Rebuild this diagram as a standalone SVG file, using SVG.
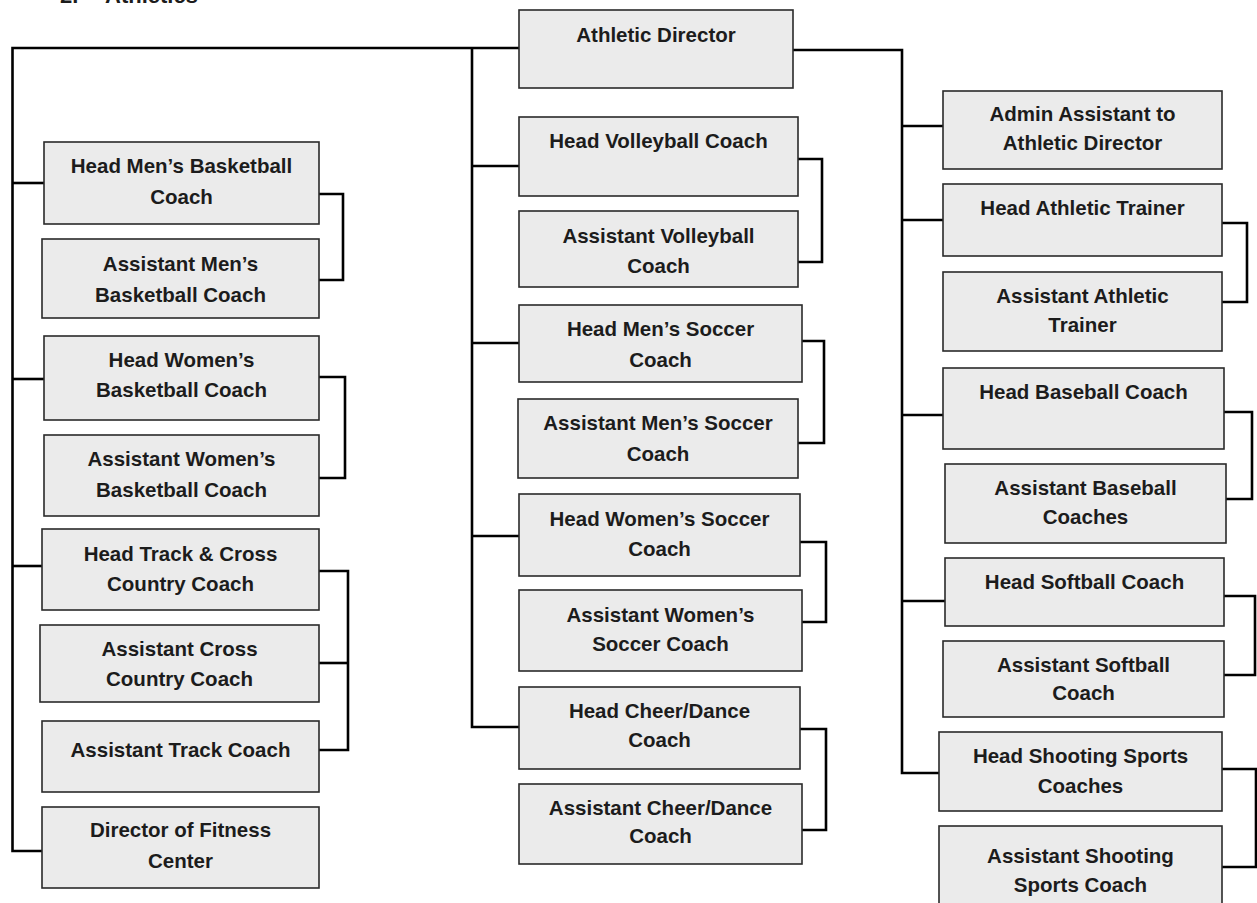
<svg xmlns="http://www.w3.org/2000/svg" width="1257" height="903" viewBox="0 0 1257 903">
<style>
.bg{fill:#ffffff}
.box{fill:#ebebeb;stroke:#2a2a2a;stroke-width:1.6}
.t{font-family:"Liberation Sans",Arial,sans-serif;font-weight:bold;font-size:20.5px;fill:#1c1c1c;text-anchor:middle}
.hd{font-family:"Liberation Sans",Arial,sans-serif;font-weight:bold;font-size:22px;fill:#1c1c1c}
.c{fill:none;stroke:#000;stroke-width:2.6;stroke-linejoin:miter}
</style>
<rect class="bg" x="0" y="0" width="1257" height="903"/>
<text class="hd" y="3"><tspan x="60">2.</tspan><tspan x="105">Athletics</tspan></text>
<g id="connectors">
<path class="c" d="M42,851 H12.5 V48 H519"/>
<path class="c" d="M12.5,183 H44"/>
<path class="c" d="M12.5,379 H44"/>
<path class="c" d="M12.5,566 H42"/>
<path class="c" d="M472,49 V727 H519"/>
<path class="c" d="M472,166 H519"/>
<path class="c" d="M472,343 H519"/>
<path class="c" d="M472,536 H519"/>
<path class="c" d="M793,50 H902 V773 H939"/>
<path class="c" d="M902,126 H943"/>
<path class="c" d="M902,220 H943"/>
<path class="c" d="M902,415 H943"/>
<path class="c" d="M902,601 H945"/>
<path class="c" d="M319,194 H343 V280 H319"/>
<path class="c" d="M319,377 H345 V478 H319"/>
<path class="c" d="M319,571 H348 V750 H319"/>
<path class="c" d="M319,663 H348"/>
<path class="c" d="M798,159 H822 V262 H798"/>
<path class="c" d="M802,341 H824 V443 H798"/>
<path class="c" d="M800,542 H826 V622 H802"/>
<path class="c" d="M800,729 H826 V830 H802"/>
<path class="c" d="M1222,223 H1247 V302 H1222"/>
<path class="c" d="M1224,412 H1252 V499 H1226"/>
<path class="c" d="M1224,596 H1255 V675 H1224"/>
<path class="c" d="M1222,769 H1256 V867 H1222"/>
</g>
<g id="athletic-director"><rect class="box" x="519" y="10" width="274" height="78"/><text class="t" x="656" y="42">Athletic Director</text></g>
<g id="head-mens-basketball"><rect class="box" x="44" y="142" width="275" height="82"/><text class="t" x="181.5" y="173">Head Men’s Basketball</text><text class="t" x="181.5" y="204">Coach</text></g>
<g id="asst-mens-basketball"><rect class="box" x="42" y="239" width="277" height="79"/><text class="t" x="180.5" y="271">Assistant Men’s</text><text class="t" x="180.5" y="302">Basketball Coach</text></g>
<g id="head-womens-basketball"><rect class="box" x="44" y="336" width="275" height="84"/><text class="t" x="181.5" y="367">Head Women’s</text><text class="t" x="181.5" y="397">Basketball Coach</text></g>
<g id="asst-womens-basketball"><rect class="box" x="44" y="435" width="275" height="81"/><text class="t" x="181.5" y="466">Assistant Women’s</text><text class="t" x="181.5" y="497">Basketball Coach</text></g>
<g id="head-track"><rect class="box" x="42" y="529" width="277" height="81"/><text class="t" x="180.5" y="561">Head Track &amp; Cross</text><text class="t" x="180.5" y="591">Country Coach</text></g>
<g id="asst-cross-country"><rect class="box" x="40" y="625" width="279" height="77"/><text class="t" x="179.5" y="656">Assistant Cross</text><text class="t" x="179.5" y="686">Country Coach</text></g>
<g id="asst-track"><rect class="box" x="42" y="721" width="277" height="71"/><text class="t" x="180.5" y="757">Assistant Track Coach</text></g>
<g id="director-fitness"><rect class="box" x="42" y="807" width="277" height="81"/><text class="t" x="180.5" y="837">Director of Fitness</text><text class="t" x="180.5" y="868">Center</text></g>
<g id="head-volleyball"><rect class="box" x="519" y="117" width="279" height="79"/><text class="t" x="658.5" y="148">Head Volleyball Coach</text></g>
<g id="asst-volleyball"><rect class="box" x="519" y="211" width="279" height="76"/><text class="t" x="658.5" y="243">Assistant Volleyball</text><text class="t" x="658.5" y="273">Coach</text></g>
<g id="head-mens-soccer"><rect class="box" x="519" y="305" width="283" height="77"/><text class="t" x="660.5" y="336">Head Men’s Soccer</text><text class="t" x="660.5" y="367">Coach</text></g>
<g id="asst-mens-soccer"><rect class="box" x="518" y="399" width="280" height="79"/><text class="t" x="658" y="430">Assistant Men’s Soccer</text><text class="t" x="658" y="461">Coach</text></g>
<g id="head-womens-soccer"><rect class="box" x="519" y="494" width="281" height="82"/><text class="t" x="659.5" y="526">Head Women’s Soccer</text><text class="t" x="659.5" y="556">Coach</text></g>
<g id="asst-womens-soccer"><rect class="box" x="519" y="590" width="283" height="81"/><text class="t" x="660.5" y="622">Assistant Women’s</text><text class="t" x="660.5" y="651">Soccer Coach</text></g>
<g id="head-cheer"><rect class="box" x="519" y="687" width="281" height="82"/><text class="t" x="659.5" y="718">Head Cheer/Dance</text><text class="t" x="659.5" y="747">Coach</text></g>
<g id="asst-cheer"><rect class="box" x="519" y="784" width="283" height="80"/><text class="t" x="660.5" y="815">Assistant Cheer/Dance</text><text class="t" x="660.5" y="843">Coach</text></g>
<g id="admin-assistant"><rect class="box" x="943" y="91" width="279" height="78"/><text class="t" x="1082.5" y="121">Admin Assistant to</text><text class="t" x="1082.5" y="150">Athletic Director</text></g>
<g id="head-trainer"><rect class="box" x="943" y="184" width="279" height="72"/><text class="t" x="1082.5" y="215">Head Athletic Trainer</text></g>
<g id="asst-trainer"><rect class="box" x="943" y="272" width="279" height="79"/><text class="t" x="1082.5" y="303">Assistant Athletic</text><text class="t" x="1082.5" y="332">Trainer</text></g>
<g id="head-baseball"><rect class="box" x="943" y="368" width="281" height="81"/><text class="t" x="1083.5" y="399">Head Baseball Coach</text></g>
<g id="asst-baseball"><rect class="box" x="945" y="464" width="281" height="79"/><text class="t" x="1085.5" y="495">Assistant Baseball</text><text class="t" x="1085.5" y="524">Coaches</text></g>
<g id="head-softball"><rect class="box" x="945" y="558" width="279" height="68"/><text class="t" x="1084.5" y="589">Head Softball Coach</text></g>
<g id="asst-softball"><rect class="box" x="943" y="641" width="281" height="76"/><text class="t" x="1083.5" y="672">Assistant Softball</text><text class="t" x="1083.5" y="700">Coach</text></g>
<g id="head-shooting"><rect class="box" x="939" y="732" width="283" height="79"/><text class="t" x="1080.5" y="763">Head Shooting Sports</text><text class="t" x="1080.5" y="793">Coaches</text></g>
<g id="asst-shooting"><rect class="box" x="939" y="826" width="283" height="90"/><text class="t" x="1080.5" y="863">Assistant Shooting</text><text class="t" x="1080.5" y="892">Sports Coach</text></g>
</svg>
